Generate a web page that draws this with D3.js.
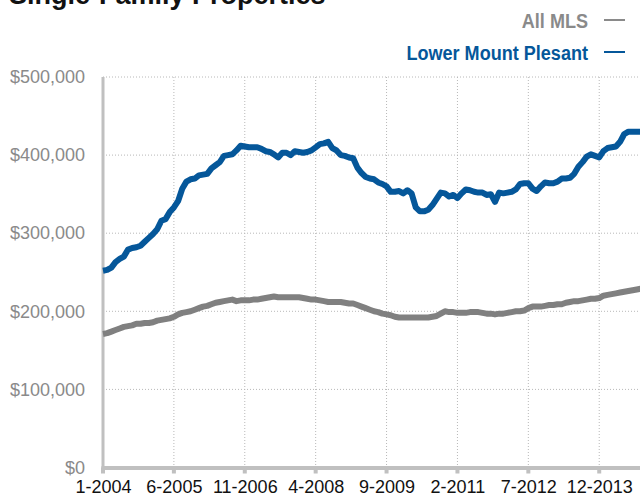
<!DOCTYPE html>
<html>
<head>
<meta charset="utf-8">
<script src="https://cdn.jsdelivr.net/npm/d3@7"></script>
<style>
  body { margin: 0; background: #fff; }
  svg { display: block; }
</style>
</head>
<body>
<div id="chart"></div>
<script>
// monthly values, Jan 2004 onward (dollars, thousands)
const lowerMountPlesant = [
  252, 253, 256, 263, 267, 270, 279, 281, 282, 284, 289, 294,
  299, 305, 316, 318, 327, 333, 341, 357, 366, 369, 370, 374,
  375, 376, 383, 387, 391, 399, 400, 401, 406, 412, 411, 410,
  410, 410, 408, 405, 404, 401, 397, 403, 403, 400, 405, 404,
  403, 404, 406, 410, 414, 415, 417, 409, 406, 400, 399, 397,
  396, 384, 377, 372, 370, 369, 365, 363, 360, 353, 353, 354,
  351, 355, 351, 333, 328, 328, 330, 336, 344, 352, 351, 347,
  349, 345, 351, 356, 355, 353, 352, 352, 349, 350, 340, 352,
  351, 352, 353, 356, 363, 364, 364, 357, 354, 360, 365, 364,
  364, 366, 370, 370, 371, 376, 385, 391, 398, 401, 399, 397,
  405, 409, 410, 411, 417, 427, 430, 430, 430, 430
];
const allMLS = [
  171, 172, 174, 176, 178, 180, 181, 182, 184, 184, 185, 185,
  186, 188, 189, 190, 191, 193, 196, 198, 199, 200, 202, 204,
  206, 207, 209, 211, 212, 213, 214, 215, 213, 214, 214, 214,
  215, 215, 216, 217, 218, 219, 218, 218, 218, 218, 218, 218,
  217, 216, 215, 215, 214, 213, 212, 212, 212, 212, 211, 210,
  210, 208, 206, 204, 202, 200, 199, 197, 196, 195, 193, 192,
  192, 192, 192, 192, 192, 192, 192, 193, 194, 197, 200, 199,
  199, 198, 198, 198, 199, 199, 199, 198, 197, 197, 196, 197,
  197, 198, 199, 200, 200, 201, 204, 206, 206, 206, 207, 208,
  208, 209, 209, 211, 212, 213, 213, 214, 215, 216, 216, 217,
  220, 221, 222, 223, 224, 225, 226, 227, 228, 229
];
const xTickIndex = [0, 17, 34, 51, 68, 85, 102, 119];
const xTickLabels = ['1-2004', '6-2005', '11-2006', '4-2008', '9-2009', '2-2011', '7-2012', '12-2013'];
const yTicks = [0, 100000, 200000, 300000, 400000, 500000];
const seriesNames = ['All MLS', 'Lower Mount Plesant'];

const w = 640;
const h = 500;
const plotLeft = 103;
const plotTop = 77;
const plotBottom = 467.5;
const monthPx = 4.17;

const blue = '#05579a';
const gray = '#808080';
const axisGray = '#c0c0c0';

const svg = d3.select('#chart')
    .append('svg')
    .attr('width', w)
    .attr('height', h);

const xScale = d3.scaleLinear()
    .domain([0, lowerMountPlesant.length - 1])
    .range([plotLeft, plotLeft + (lowerMountPlesant.length - 1) * monthPx]);

const yScale = d3.scaleLinear()
    .domain([0, 500000])
    .range([plotBottom, plotTop]);

// title (cut off at the top of the frame)
svg.append('text')
    .attr('x', 9)
    .attr('y', 4)
    .text('Single-Family Properties')
    .style('font-family', 'Liberation Sans, Arial, sans-serif')
    .style('font-weight', 'bold')
    .style('font-size', '27px')
    .style('fill', '#111');

// horizontal grid
svg.append('g')
    .selectAll('line')
    .data(yTicks.slice(1))
    .enter()
    .append('line')
    .attr('x1', plotLeft)
    .attr('x2', w)
    .attr('y1', d => yScale(d))
    .attr('y2', d => yScale(d))
    .attr('stroke', '#b8b8b8')
    .attr('stroke-width', 1)
    .attr('stroke-dasharray', '1,2');

// vertical grid
svg.append('g')
    .selectAll('line')
    .data(xTickIndex.slice(1))
    .enter()
    .append('line')
    .attr('x1', d => xScale(d))
    .attr('x2', d => xScale(d))
    .attr('y1', plotTop)
    .attr('y2', plotBottom)
    .attr('stroke', '#b8b8b8')
    .attr('stroke-width', 1)
    .attr('stroke-dasharray', '1,2');

// y axis
const yAxis = d3.axisLeft(yScale)
    .tickValues(yTicks)
    .tickSize(0)
    .tickPadding(18)
    .tickFormat(d => '$' + d3.format(',')(d));

const gy = svg.append('g')
    .attr('transform', `translate(${plotLeft}, 0)`)
    .call(yAxis);
gy.select('.domain').remove();
gy.selectAll('text')
    .style('font-family', 'Liberation Sans, Arial, sans-serif')
    .style('font-size', '18px')
    .style('fill', '#8a8a8a');

// x axis
const xAxis = d3.axisBottom(xScale)
    .tickValues(xTickIndex)
    .tickSize(0)
    .tickPadding(13)
    .tickFormat((d, i) => xTickLabels[i]);

const gx = svg.append('g')
    .attr('transform', `translate(0, ${plotBottom})`)
    .call(xAxis);
gx.select('.domain').remove();
gx.selectAll('text')
    .style('font-family', 'Liberation Sans, Arial, sans-serif')
    .style('font-size', '18px')
    .style('fill', '#111');

// tick nubs under the x axis
svg.append('g')
    .selectAll('rect')
    .data(xTickIndex)
    .enter()
    .append('rect')
    .attr('x', d => xScale(d) - 2)
    .attr('y', plotBottom)
    .attr('width', 4)
    .attr('height', 6)
    .attr('fill', axisGray);

// axis lines
svg.append('line')
    .attr('x1', plotLeft)
    .attr('x2', plotLeft)
    .attr('y1', plotTop)
    .attr('y2', plotBottom + 2)
    .attr('stroke', axisGray)
    .attr('stroke-width', 3);

svg.append('line')
    .attr('x1', plotLeft - 1.5)
    .attr('x2', w)
    .attr('y1', plotBottom + 0.5)
    .attr('y2', plotBottom + 0.5)
    .attr('stroke', axisGray)
    .attr('stroke-width', 4);

// series lines
const line = d3.line()
    .x((d, i) => xScale(i))
    .y(d => yScale(d * 1000));

svg.append('path')
    .datum(allMLS)
    .attr('d', line)
    .attr('fill', 'none')
    .attr('stroke', gray)
    .attr('stroke-width', 6)
    .attr('stroke-linejoin', 'round');

svg.append('path')
    .datum(lowerMountPlesant)
    .attr('d', line)
    .attr('fill', 'none')
    .attr('stroke', blue)
    .attr('stroke-width', 6)
    .attr('stroke-linejoin', 'round');

// legend (condensed look: squeeze the bold face horizontally)
const legend = svg.append('g')
    .selectAll('g')
    .data(seriesNames)
    .enter()
    .append('g')
    .attr('transform', (d, i) => `translate(0, ${28 + i * 32})`);

legend.append('text')
    .attr('transform', 'translate(588, 0) scale(0.86, 1)')
    .attr('text-anchor', 'end')
    .text(d => d)
    .style('font-family', 'Liberation Sans, Arial, sans-serif')
    .style('font-weight', 'bold')
    .style('font-size', '21px')
    .style('fill', (d, i) => i === 0 ? '#8a8a8a' : blue);

legend.append('line')
    .attr('x1', 604)
    .attr('x2', 625)
    .attr('y1', -8)
    .attr('y2', -8)
    .attr('stroke', (d, i) => i === 0 ? '#8a8a8a' : blue)
    .attr('stroke-width', 2);
</script>
</body>
</html>
